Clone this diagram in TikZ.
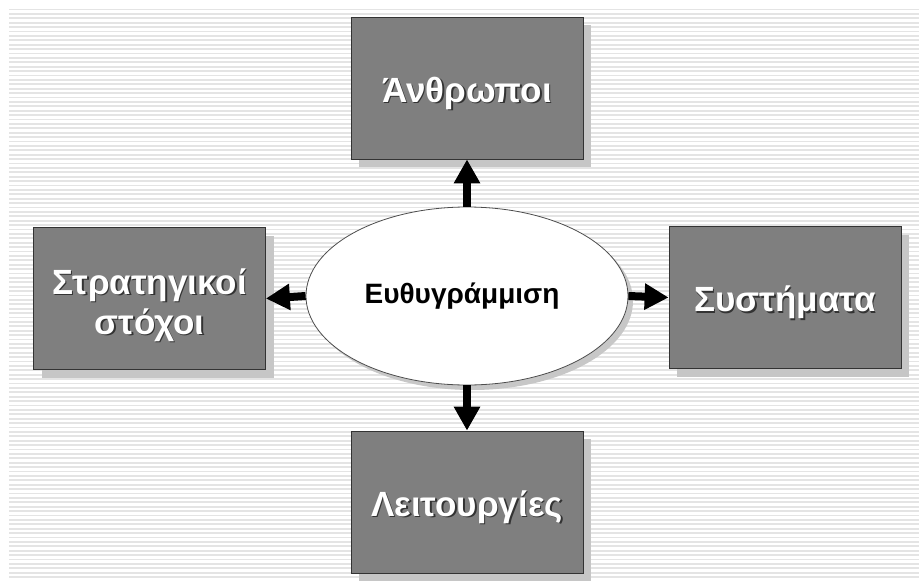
\documentclass[tikz,border=0pt]{standalone}
\usepackage{fontspec}
\newfontfamily\boxfont{Liberation Sans}
\newfontfamily\ovalfont{Liberation Sans}
\usetikzlibrary{shapes.geometric,shadows,arrows.meta}

\definecolor{boxgray}{HTML}{7F7F7F}
\definecolor{boxedge}{HTML}{333333}
\definecolor{shadegray}{HTML}{C6C6C6}
\definecolor{stripe}{HTML}{E4E4E4}

% white lettering with a dark offset copy underneath
\newcommand\shadowed[1]{\leavevmode\rlap{\hspace{1.6pt}\raisebox{-1.6pt}{\color{black!80}#1}}{\color{white}#1}}

\tikzset{
  blockbox/.style={rectangle, draw=boxedge, line width=0.8pt, fill=boxgray,
    minimum width=232pt, minimum height=142pt, inner sep=0pt, align=center,
    font=\boxfont\bfseries\fontsize{35}{40}\selectfont,
    general shadow={shadow xshift=8pt, shadow yshift=-8pt, fill=shadegray}},
  oneline/.style={text height=32pt, text depth=4pt},
  hub/.style={ellipse, draw=black!70, line width=0.8pt, fill=white,
    minimum width=322pt, minimum height=178pt, inner sep=0pt,
    font=\ovalfont\bfseries\fontsize{28}{32}\selectfont,
    general shadow={shadow xshift=5pt, shadow yshift=-5pt, fill=black!22}},
  flow/.style={line width=8pt, -{Triangle[width=25pt,length=24pt]}}
}

\begin{document}
\begin{tikzpicture}[x=1pt,y=-1pt]
\useasboundingbox (0,0) rectangle (919,581);
\fill[white] (0,0) rectangle (919,581);
% ruled paper background
\foreach \i in {0,...,129}
  \fill[stripe] (9,{8.5+4.4*\i}) rectangle (919,{10.3+4.4*\i});

\node[blockbox, oneline] (people) at (467,88) {\shadowed{Άνθρωποι}};
\node[blockbox] (goals) at (149.5,298.5)
  {\rule{0pt}{40pt}\shadowed{Στρατηγικοί}\\\shadowed{στόχοι}};
\node[blockbox, oneline] (systems) at (785,297.5) {\shadowed{Συστήματα}};
\node[blockbox, oneline] (functions) at (467,502) {\shadowed{Λειτουργίες}};

\node[hub] (align) at (467,296) {\hspace{-10pt}Ευθυγράμμιση};

\draw[flow] (align.north) -- (people.south);
\draw[flow] (align.west) -- (goals.east);
\draw[flow] (align.east) -- (systems.west);
\draw[flow] (align.south) -- (functions.north);
\end{tikzpicture}
\end{document}
